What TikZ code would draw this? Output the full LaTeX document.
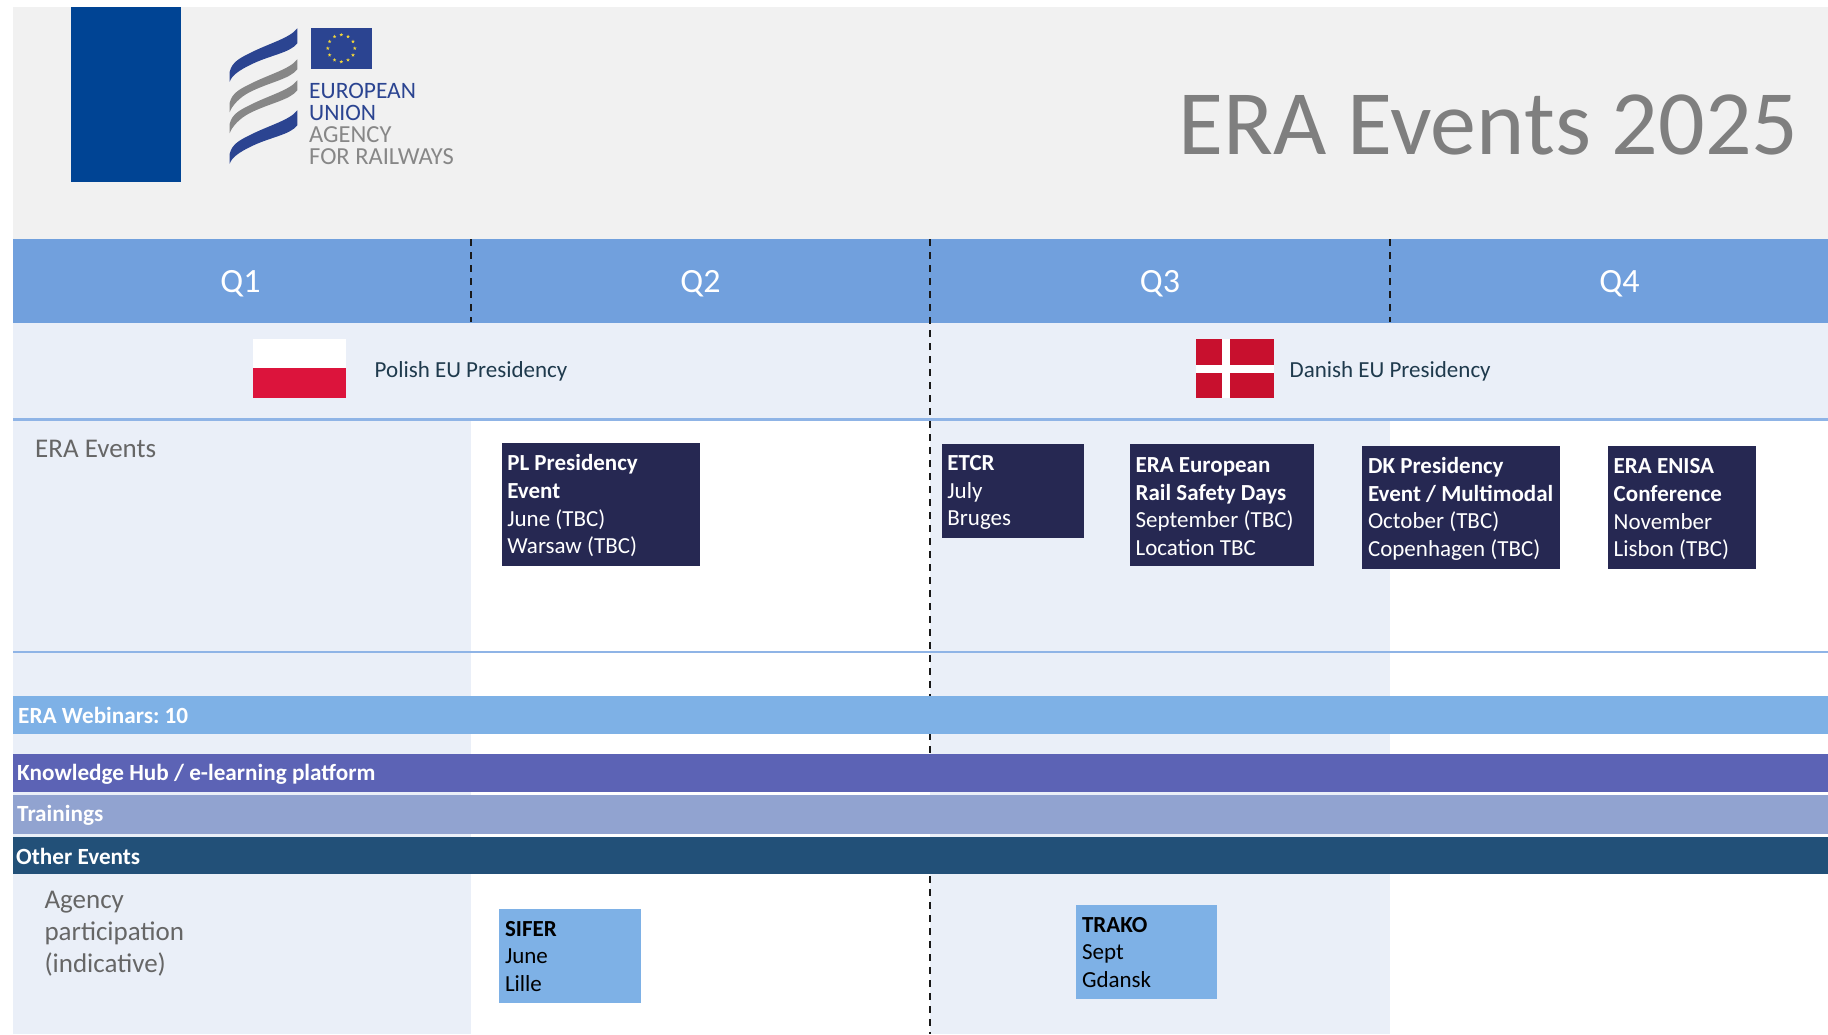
\documentclass[tikz,border=0pt]{standalone}
\usepackage{fontspec}
\usetikzlibrary{shapes.geometric}
\setmainfont{Carlito}
\frenchspacing
\definecolor{hdrgrey}{HTML}{F1F1F1}
\definecolor{band}{HTML}{71A0DD}
\definecolor{pale}{HTML}{EAEFF8}
\definecolor{rule}{HTML}{8FB4E6}
\definecolor{navybox}{HTML}{262852}
\definecolor{skybar}{HTML}{7EB1E6}
\definecolor{hubbar}{HTML}{5C63B5}
\definecolor{trainbar}{HTML}{91A3D0}
\definecolor{otherbar}{HTML}{225078}
\definecolor{logoblue}{HTML}{2B4491}
\definecolor{logogrey}{HTML}{878787}
\definecolor{logosq}{HTML}{004494}
\definecolor{presink}{HTML}{1F3A4D}
\definecolor{dkred}{HTML}{C8102E}
\definecolor{plred}{HTML}{DC143C}
\definecolor{labelgrey}{HTML}{666666}
\definecolor{titlegrey}{HTML}{7F7F7F}
\definecolor{eustar}{HTML}{F2D63A}
\tikzset{
  x=1pt,y=-1pt,
  quarter/.style={font=\fontsize{34}{40}\selectfont,text=white},
  quartersep/.style={draw=black!90,line width=2pt,dash pattern=on 7pt off 6pt},
  presname/.style={font=\fontsize{23}{27}\selectfont,text=presink,anchor=west,inner sep=0pt},
  sidelabel/.style={font=\fontsize{27}{32}\selectfont,text=labelgrey,anchor=north west,inner sep=0pt,align=flush left},
  barlabel/.style={font=\fontsize{23.2}{27}\selectfont\bfseries,text=white,anchor=west,inner sep=0pt},
  evbox/.style={anchor=north west,fill=navybox,text=white,align=flush left,inner xsep=5.8pt,inner ysep=0pt,
    font=\fontsize{23}{27.6}\selectfont},
  partbox/.style={evbox,fill=skybar,text=black},
  logotext/.style={font=\fontsize{23.5}{24}\selectfont,anchor=west,inner sep=0pt},
}
% #1 offset, #2 colour, #3 right, #4 middle, #5 left thickness
\newcommand{\ribbonshape}[5]{%
  \fill[#2,shift={(0,#1)}] (229.7,71.7)
    .. controls (232,62) and (240,58) .. (250,53)
    .. controls (270,43) and (290,38) .. (297.3,28.3)
    -- (297.3,28.3+#3)
    .. controls (290,38+#3) and (270,43+#4) .. (250,53+#4)
    .. controls (240,58+#4) and (232,65+#5) .. (229.7,71.7+#5) -- cycle;}
\newcommand{\evb}[1]{\rule{0pt}{19pt}\textbf{#1}}
\begin{document}
\begin{tikzpicture}
\useasboundingbox (0,0) rectangle (1828,1034);
\fill[white] (0,0) rectangle (1828,1034);
% header
\fill[hdrgrey] (13,7) rectangle (1828,238.5);
\fill[logosq] (70.8,7) rectangle (181.4,182);
% pale columns and rows
\fill[pale] (13,322) rectangle (470.7,1034);
\fill[pale] (930.3,322) rectangle (1389.7,1034);
\fill[pale] (13,322) rectangle (1828,419.3);
% quarter band
\fill[band] (13,238.5) rectangle (1828,322.5);
\draw[rule,line width=2.4pt] (13,419.3) -- (1828,419.3);
\draw[rule,line width=1.8pt] (13,652) -- (1828,652);
% separators
\draw[quartersep] (470.7,239) -- (470.7,322);
\draw[quartersep] (930.3,239) -- (930.3,1034);
\draw[quartersep] (1389.7,239) -- (1389.7,322);
% quarter labels
\node[quarter] (q1) at (240.5,284) {Q1};
\node[quarter] (q2) at (700.5,284) {Q2};
\node[quarter] (q3) at (1160,284) {Q3};
\node[quarter] (q4) at (1619.5,284) {Q4};
% logo
\ribbonshape{0}{logoblue}{15}{12}{10}
\ribbonshape{31}{logogrey}{10}{8}{9.5}
\ribbonshape{52}{logogrey}{10}{8}{9.5}
\ribbonshape{82}{logoblue}{15}{12}{10}
\fill[logoblue] (311,28) rectangle (371.7,68.7);
\foreach \a in {0,30,...,330}
  \node[star,star points=5,star point ratio=2.4,fill=eustar,inner sep=0pt,minimum size=3.8pt] (eu\a) at ({341.3+13.5*cos(\a)},{48.3+13.5*sin(\a)}) {};
\node[logotext,text=logoblue] (lg1) at (309,91) {EUROPEAN};
\node[logotext,text=logoblue] (lg2) at (309,112.7) {UNION};
\node[logotext,text=logogrey,font=\fontsize{24.5}{25}\selectfont] (lg3) at (309,135) {AGENCY};
\node[logotext,text=logogrey,font=\fontsize{24.5}{25}\selectfont] (lg4) at (309,156.7) {FOR RAILWAYS};
\node[font=\fontsize{92}{100}\selectfont,text=titlegrey,anchor=base east,inner sep=0pt] (title) at (1798.5,154) {ERA Events 2025};
% flags
\fill[white] (253,339) rectangle (346,368);
\fill[plred] (253,368) rectangle (346,397.5);
\fill[dkred] (1196.4,339.3) rectangle (1274,397.7);
\fill[white] (1221.9,339.3) rectangle (1229.6,397.7);
\fill[white] (1196.4,364.7) rectangle (1274,372.7);
\node[presname] (pl) at (374.5,371.5) {Polish EU Presidency};
\node[presname] (dk) at (1289.4,371.5) {Danish EU Presidency};
% row labels
\node[sidelabel] (era) at (35,440) {ERA Events};
\node[sidelabel] (agency) at (44.3,891) {Agency\\participation\\(indicative)};
% events
\node[evbox,text width=186.6pt,minimum height=122.4pt] (plev) at (501.3,443) {\evb{PL Presidency}\\\textbf{Event}\\June (TBC)\\Warsaw (TBC)};
\node[evbox,text width=130.4pt,minimum height=94.7pt] (etcr) at (941.4,443.3) {\evb{ETCR}\\July\\Bruges};
\node[evbox,text width=173pt,minimum height=122.4pt] (safety) at (1129.6,443.3) {\evb{ERA European}\\\textbf{Rail Safety Days}\\September (TBC)\\Location TBC};
\node[evbox,text width=186.2pt,minimum height=122.3pt] (dkev) at (1362,446) {\evb{DK Presidency}\\\textbf{Event / Multimodal}\\October (TBC)\\Copenhagen (TBC)};
\node[evbox,text width=136.3pt,minimum height=122.3pt] (enisa) at (1607.7,446) {\evb{ERA ENISA}\\\textbf{Conference}\\November\\Lisbon (TBC)};
% bars
\fill[skybar] (13,696) rectangle (1828,734);
\fill[hubbar] (13,753.7) rectangle (1828,792);
\fill[trainbar] (13,795) rectangle (1828,833.7);
\fill[otherbar] (13,836.7) rectangle (1828,874.3);
\node[barlabel] (web) at (18,715) {ERA Webinars: 10};
\node[barlabel] (hub) at (17,774) {Knowledge Hub / e-learning platform};
\node[barlabel] (tr) at (17,815) {Trainings};
\node[barlabel] (oth) at (16,856) {Other Events};
% participation
\node[partbox,text width=130pt,minimum height=94pt] (sifer) at (499,909) {\textbf{SIFER}\\June\\Lille};
\node[partbox,text width=129.4pt,minimum height=94pt] (trako) at (1076,905) {\textbf{TRAKO}\\Sept\\Gdansk};
\end{tikzpicture}
\end{document}
